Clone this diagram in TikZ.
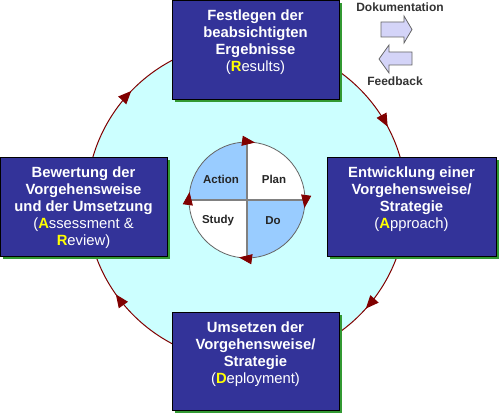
\documentclass[tikz,border=0pt]{standalone}
\usepackage{fontspec}
\setmainfont{Liberation Sans}
\usetikzlibrary{arrows.meta, positioning, shadows, decorations.markings}

\definecolor{boxblue}{RGB}{51,51,153}
\definecolor{ringcyan}{RGB}{204,255,255}
\definecolor{darkred}{RGB}{128,0,0}
\definecolor{quadblue}{RGB}{153,204,255}
\definecolor{shadowgreen}{RGB}{51,153,51}
\definecolor{legfill}{RGB}{212,212,248}
\definecolor{hlyellow}{RGB}{255,255,0}
\newcommand{\hl}[1]{\textcolor{hlyellow}{\bfseries #1}}

\begin{document}
\begin{tikzpicture}[x=1pt, y=1pt,
  phase/.style={rectangle, draw=black, thin, fill=boxblue, inner sep=0pt,
                minimum width=167pt, minimum height=99pt,
                drop shadow={shadow xshift=3pt, shadow yshift=-3pt,
                             fill=shadowgreen, opacity=1}},
  phasetext/.style={text=white, align=center, inner sep=0pt,
                    font=\fontsize{14.8}{17}\selectfont\bfseries},
  pdca/.style={font=\fontsize{11.5}{13}\selectfont\bfseries, text=black!85},
  legend/.style={font=\fontsize{12}{14}\selectfont\bfseries, text=black!80},
  legarrow/.style={fill=legfill, draw=black!60, line width=0.8pt, line join=miter},
  ringtip/.tip={Triangle[length=13pt, width=11pt]},
  hubtip/.tip={Triangle[length=13pt, width=10pt]},
]
  \useasboundingbox (0,0) rectangle (499,416);

  % outer cycle
  \coordinate (ring) at (246.5,214);
  \draw[darkred, line width=1pt, fill=ringcyan, postaction={decorate},
        decoration={markings,
          mark=at position 0.172 with {\arrow{ringtip}},
          mark=at position 0.366 with {\arrow{ringtip}},
          mark=at position 0.652 with {\arrow{ringtip}},
          mark=at position 0.872 with {\arrow{ringtip}}}]
    (ring) ++(90:160) arc[start angle=90, end angle=-270, radius=160];

  % PDCA wheel
  \coordinate (hub) at (247,216);
  \fill[white] (hub) circle[radius=58];
  \fill[quadblue] (hub) -- ++(90:58) arc[start angle=90, end angle=180, radius=58] -- cycle;
  \fill[quadblue] (hub) -- ++(-90:58) arc[start angle=-90, end angle=0, radius=58] -- cycle;
  \draw[gray, line width=1.2pt] (hub) ++(-58,0) -- ++(116,0);
  \draw[gray, line width=1.2pt] (hub) ++(0,-58) -- ++(0,116);
  \draw[gray!80!black, line width=0.8pt, postaction={decorate},
        decoration={markings,
          mark=at position 0.147 with {\arrow[darkred]{hubtip}},
          mark=at position 0.397 with {\arrow[darkred]{hubtip}},
          mark=at position 0.647 with {\arrow[darkred]{hubtip}},
          mark=at position 0.897 with {\arrow[darkred]{hubtip}}}]
    (hub) ++(135:58) arc[start angle=135, end angle=-225, radius=58];

  \node[pdca] (act) at (221,237) {Action};
  \node[pdca] (plan) at (274,237) {Plan};
  \node[pdca] (study) at (218,195) {Study};
  \node[pdca] (do) at (273,195) {Do};

  % phases
  \node[phase] (res) at (255.5,366.5) {};
  \node[phase, minimum width=169pt] (appr) at (411.5,209.5) {};
  \node[phase, minimum height=98pt] (depl) at (255.5,55) {};
  \node[phase] (rev) at (83.5,209.5) {};

  \node[phasetext, below=10pt of res.north] (restxt)
    {Festlegen der\\beabsichtigten\\Ergebnisse\\{\mdseries(\hl{R}esults)}};
  \node[phasetext, below=10pt of appr.north] (apprtxt)
    {Entwicklung einer\\Vorgehensweise/\\Strategie\\{\mdseries(\hl{A}pproach)}};
  \node[phasetext, below=10pt of depl.north] (depltxt)
    {Umsetzen der\\Vorgehensweise/\\Strategie\\{\mdseries(\hl{D}eployment)}};
  \node[phasetext, below=10pt of rev.north] (revtxt)
    {Bewertung der\\Vorgehensweise\\und der Umsetzung\\{\mdseries(\hl{A}ssessment \&}\\{\mdseries\hl{R}eview)}};

  % legend
  \node[legend] (doku) at (400,409) {Dokumentation};
  \node[legend] (feedb) at (395,335) {Feedback};
  \draw[legarrow] (381,379) -- (404,379) -- (404,373) -- (412,386.5)
    -- (404,400) -- (404,394) -- (381,394) -- cycle;
  \draw[legarrow] (412,351) -- (389,351) -- (389,343) -- (379,357)
    -- (389,371) -- (389,364) -- (412,364) -- cycle;
\end{tikzpicture}
\end{document}
